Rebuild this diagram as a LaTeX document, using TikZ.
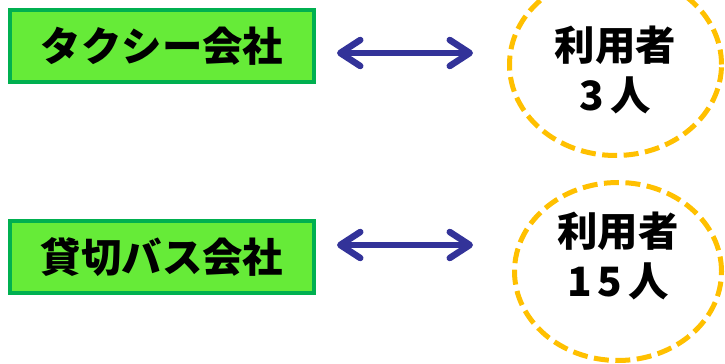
\documentclass[tikz,border=0pt]{standalone}
\usepackage{fontspec}
\newfontfamily\jp{Noto Sans CJK JP}
\usetikzlibrary{shapes.geometric,arrows.meta,positioning}
\definecolor{boxgreen}{HTML}{66EB38}
\definecolor{edgegreen}{HTML}{00B050}
\definecolor{arrowblue}{HTML}{333399}
\definecolor{ringgold}{HTML}{FFC000}
\tikzstyle{company} = [rectangle, draw=edgegreen, fill=boxgreen, line width=0.08cm,
    minimum width=6.08cm, minimum height=1.44cm, inner sep=0pt,
    font=\jp\bfseries\fontsize{23}{28.5}\selectfont]
\tikzstyle{users} = [ellipse, draw=ringgold, line width=0.1cm,
    dash pattern=on 0.3cm off 0.13cm, inner sep=0pt]
\tikzstyle{usertext} = [align=center, inner sep=0pt,
    font=\jp\bfseries\fontsize{23}{28.5}\selectfont]
\tikzstyle{link} = [draw=arrowblue, line width=0.13cm,
    {Straight Barb[round,length=0.4cm,width=0.52cm]}-{Straight Barb[round,length=0.4cm,width=0.52cm]}]

\begin{document}
\begin{tikzpicture}[node distance=4.22cm,auto]
    \useasboundingbox (0,0) rectangle (14.5,-7.28);
    % Place nodes
    \node [company] (taxi) at (3.24,-0.92) {タクシー会社};
    \node [company, below of=taxi] (bus) {貸切バス会社};
    \node [users, minimum width=4.24cm, minimum height=3.64cm,
           node distance=9.07cm, right of=taxi, yshift=-0.37cm] (user1) {};
    \node [users, minimum width=4.14cm, minimum height=3.56cm,
           node distance=9.12cm, right of=bus, yshift=-0.29cm] (user2) {};

    % counts inside the rings
    \node [usertext] (count1) at ([yshift=-0.11cm]user1.center) {利用者\\3\kern3.5pt 人};
    \node [usertext] (count2) at ([yshift=0.315cm]user2.center) {利用者\\1\kern3.5pt 5\kern3.5pt 人};

    % Draw edges
    \coordinate (t1) at ([yshift=-0.14cm]taxi.east);
    \coordinate (t2) at ([yshift=0.24cm]bus.east);
    \path [link, shorten <=0.42cm, shorten >=0.68cm] (t1) -- (t1 -| user1.west);
    \path [link, shorten <=0.42cm, shorten >=0.78cm] (t2) -- (t2 -| user2.west);
\end{tikzpicture}
\end{document}
